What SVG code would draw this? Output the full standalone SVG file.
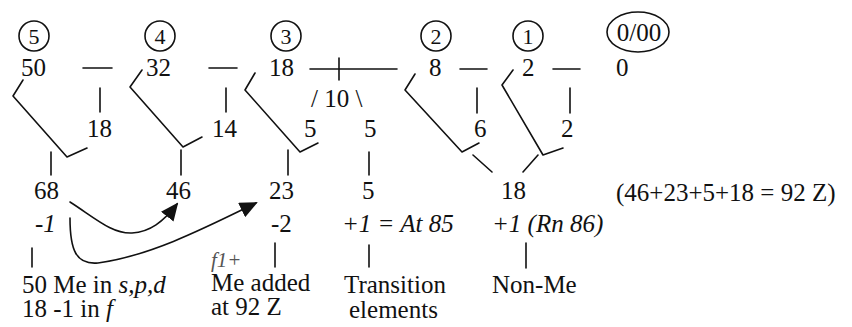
<svg xmlns="http://www.w3.org/2000/svg" width="852" height="327" viewBox="0 0 852 327">
<defs>
<style>
svg text, text, tspan{font-family:'Liberation Serif',serif !important}
text{font-size:25px;fill:#111}
.c{font-size:22px;text-anchor:middle}
.i{font-style:italic}
.ln{stroke:#111;stroke-width:1.6;fill:none;stroke-linejoin:round;stroke-linecap:round}
.sh{fill:none;stroke:#111;stroke-width:1.6}
</style>
<marker id="ah" markerUnits="userSpaceOnUse" markerWidth="18" markerHeight="16" viewBox="0 0 18 16" refX="16" refY="8" orient="auto">
<path d="M0,0 L18,8 L0,16 Z" fill="#111"/>
</marker>
</defs>
<rect width="852" height="327" fill="#fff"/>
<g id="period5">
<circle class="sh" cx="34" cy="36" r="15"/><text class="c" x="34" y="44" style="font-family:'Liberation Serif',serif">5</text>
<text x="21" y="76" style="font-family:'Liberation Serif',serif">50</text>
</g>
<g id="period4">
<circle class="sh" cx="160" cy="36" r="15"/><text class="c" x="160" y="44" style="font-family:'Liberation Serif',serif">4</text>
<text x="146" y="76" style="font-family:'Liberation Serif',serif">32</text>
</g>
<g id="period3">
<circle class="sh" cx="286" cy="36" r="15"/><text class="c" x="286" y="44" style="font-family:'Liberation Serif',serif">3</text>
<text x="269" y="76" style="font-family:'Liberation Serif',serif">18</text>
</g>
<g id="period2">
<circle class="sh" cx="436" cy="36" r="15"/><text class="c" x="436" y="44" style="font-family:'Liberation Serif',serif">2</text>
<text x="429" y="76" style="font-family:'Liberation Serif',serif">8</text>
</g>
<g id="period1">
<circle class="sh" cx="528" cy="36" r="15"/><text class="c" x="528" y="44" style="font-family:'Liberation Serif',serif">1</text>
<text x="522" y="76" style="font-family:'Liberation Serif',serif">2</text>
</g>
<g id="period0">
<ellipse class="sh" cx="638" cy="32" rx="31" ry="20"/><text x="639" y="41" text-anchor="middle" style="font-family:'Liberation Serif',serif">0/00</text>
<text x="616" y="76" style="font-family:'Liberation Serif',serif">0</text>
</g>

<g id="sub-row">
<text x="87" y="137" style="font-family:'Liberation Serif',serif">18</text>
<text x="212" y="137" style="font-family:'Liberation Serif',serif">14</text>
<text x="304" y="137" style="font-family:'Liberation Serif',serif">5</text>
<text x="311" y="107" style="font-family:'Liberation Serif',serif">/ 10 \</text>
<text x="364" y="137" style="font-family:'Liberation Serif',serif">5</text>
<text x="474" y="137" style="font-family:'Liberation Serif',serif">6</text>
<text x="561" y="137" style="font-family:'Liberation Serif',serif">2</text>
</g>

<g id="sum-row">
<text x="34" y="199" style="font-family:'Liberation Serif',serif">68</text>
<text x="166" y="199" style="font-family:'Liberation Serif',serif">46</text>
<text x="269" y="199" style="font-family:'Liberation Serif',serif">23</text>
<text x="362" y="199" style="font-family:'Liberation Serif',serif">5</text>
<text x="501" y="199" style="font-family:'Liberation Serif',serif">18</text>
<text x="616" y="201" style="font-family:'Liberation Serif',serif">(46+23+5+18 = 92 Z)</text>
</g>

<g id="correction-row">
<text x="35" y="232" style="font-family:'Liberation Serif',serif">-<tspan class="i">1</tspan></text>
<text x="271" y="232" style="font-family:'Liberation Serif',serif">-2</text>
<text class="i" x="342" y="232" style="font-family:'Liberation Serif',serif">+1 = At 85</text>
<text class="i" x="492" y="232" style="font-family:'Liberation Serif',serif">+1 (Rn 86)</text>
<text class="i" x="211" y="267" style="font-family:'Liberation Serif',serif;font-size:21px;fill:#555">f1+</text>
</g>

<g id="labels">
<text x="22" y="293" style="font-family:'Liberation Serif',serif">50 Me in <tspan class="i">s,p,d</tspan></text>
<text x="22" y="317" style="font-family:'Liberation Serif',serif">18 -1 in <tspan class="i">f</tspan></text>
<text x="211" y="291" style="font-family:'Liberation Serif',serif">Me added</text>
<text x="211" y="315" style="font-family:'Liberation Serif',serif">at 92 Z</text>
<text x="344" y="293" style="font-family:'Liberation Serif',serif">Transition</text>
<text x="349" y="318" style="font-family:'Liberation Serif',serif">elements</text>
<text x="492" y="293" style="font-family:'Liberation Serif',serif">Non-Me</text>
</g>
<g id="connectors">
<path class="ln" d="M83,68 H112 M209,68 H237 M310,69 H397 M339,58 V80 M460,69 H487 M553,69 H580"/>
<path class="ln" d="M100,88 V112 M226,88 V112 M477,88 V113 M570,88 V113"/>
<path class="ln" d="M23,80 L13,96 L67,157 L87,148"/>
<path class="ln" d="M142,70 L130,87 L183,147 L202,137"/>
<path class="ln" d="M255,73 L245,90 L300,152 L318,143"/>
<path class="ln" d="M415,74 L405,90 L462,152 L479,143"/>
<path class="ln" d="M513,70 L502,85 L543,155 L563,148"/>
<path class="ln" d="M473,155 L492,172 M538,155 L523,172"/>
<path class="ln" d="M51,152 V175 M181,150 V175 M288,150 V175 M369,152 V175"/>
<path class="ln" d="M32,248 V267 M275,243 V267 M369,245 V267 M526,243 V268"/>
<path class="ln" d="M70,202 C95,218 112,234 132,233 C150,232 163,222 177,204" marker-end="url(#ah)"/>
<path class="ln" d="M70,218 C70,250 76,265 98,263 C150,256 205,228 256,203" marker-end="url(#ah)"/>
</g>
</svg>
